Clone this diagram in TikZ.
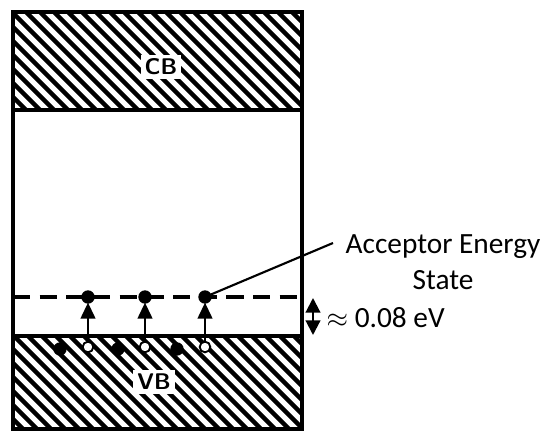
\documentclass[tikz,border=0pt]{standalone}
\usepackage{fontspec}
\setmainfont{Carlito}
\usetikzlibrary{arrows.meta,positioning}

\begin{document}
\begin{tikzpicture}[x=0.75pt,y=-0.75pt,
    hatch/.style={line width=3.4pt},
    band label/.style={fill=white,inner sep=3pt,font=\sffamily\bfseries\fontsize{17}{18}\selectfont},
    filled/.style={circle,fill=black,inner sep=0pt,minimum size=10pt},
    hole/.style={circle,draw,line width=1.4pt,fill=white,inner sep=0pt,minimum size=8pt},
    lift/.style={-{Triangle[length=12pt,width=11pt]},line width=1.6pt,shorten >=-1pt},
    txt/.style={font=\fontsize{22}{27}\selectfont}]
  \useasboundingbox (0,0) rectangle (545,434);
  % hatched bands
  \begin{scope}
    \clip (13,12) rectangle (302,110) (13,336) rectangle (302,429);
    \foreach \i in {-30,...,30}
      \draw[hatch] (\i*14,0) -- ++(440,440);
  \end{scope}
  \draw[line width=2.8pt] (13,12) rectangle (302,429);
  \draw[line width=2.8pt] (13,110) -- (302,110) (13,336) -- (302,336);
  \node[band label] (cb) at (161,67) {CB};
  \node[band label] (vb) at (154,382) {VB};

  % acceptor level
  \draw[line width=2.3pt,dash pattern=on 13pt off 7pt] (13,297) -- (302,297);
  \foreach \x/\n in {88/1,145/2,205/3}{
    \node[filled] (a\n) at (\x,297) {};
    \node[hole] (h\n) at (\x,347) {};
    \draw[lift] (h\n) -- (a\n);
  }
  \foreach \x/\n in {60/1,118/2,177/3}
    \node[filled] (e\n) at (\x,349) {};

  % labels
  \node[txt,align=center] (acc) at (443,262) {Acceptor Energy\\State};
  \coordinate (lead) at (333,243);
  \draw[line width=1.6pt] (a3.center) -- (lead);
  \coordinate (gtop) at (313,298);
  \coordinate (gbot) at (313,335);
  \draw[{Triangle[length=11pt,width=11pt]}-{Triangle[length=11pt,width=11pt]},line width=1.6pt] (gtop) -- (gbot);
  \node[txt,anchor=west] (gap) at (322,318) {$\approx$ 0.08 eV};
\end{tikzpicture}
\end{document}
